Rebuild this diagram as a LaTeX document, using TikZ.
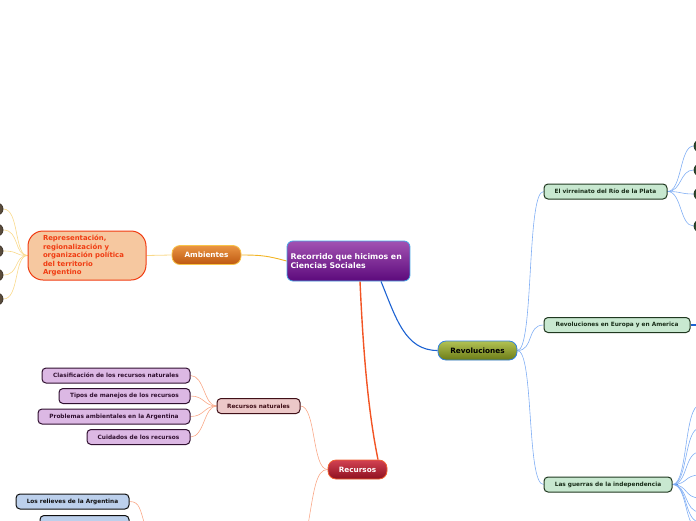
\documentclass[tikz,border=0pt]{standalone}
\usepackage{fontspec}
\setmainfont{DejaVu Sans}
\usetikzlibrary{calc}
\pgfdeclarelayer{bg}
\pgfsetlayers{bg,main}
\definecolor{purTop}{HTML}{A252B2}
\definecolor{purBot}{HTML}{5C0A7C}
\definecolor{cenBorder}{HTML}{45A5E5}
\definecolor{ambTop}{HTML}{EA9544}
\definecolor{ambBot}{HTML}{BE5810}
\definecolor{ambBorder}{HTML}{F8C448}
\definecolor{repFill}{HTML}{F6C8A0}
\definecolor{repRed}{HTML}{F03C12}
\definecolor{revTop}{HTML}{B2C254}
\definecolor{revBot}{HTML}{6C7C16}
\definecolor{revBorder}{HTML}{3080E0}
\definecolor{recTop}{HTML}{D24252}
\definecolor{recBot}{HTML}{8E1020}
\definecolor{recBorder}{HTML}{F06030}
\definecolor{greenFill}{HTML}{C8E8D0}
\definecolor{greenLine}{HTML}{203820}
\definecolor{rnFill}{HTML}{ECC8C8}
\definecolor{rnLine}{HTML}{401018}
\definecolor{lilFill}{HTML}{DCB8E4}
\definecolor{lilLine}{HTML}{301030}
\definecolor{bluFill}{HTML}{BCD0EC}
\definecolor{bluLine}{HTML}{101010}
\definecolor{yelLine}{HTML}{F2B424}
\definecolor{yelLight}{HTML}{F9D98A}
\definecolor{blueMain}{HTML}{1C62D2}
\definecolor{blueLight}{HTML}{80AEF4}
\definecolor{redMain}{HTML}{F25424}
\definecolor{salmon}{HTML}{F9A888}
\definecolor{brownDot}{HTML}{5A4C3C}
\definecolor{greenDot}{HTML}{2E4A2E}
\tikzset{
  central/.style={rectangle, rounded corners=6pt, top color=purTop, bottom color=purBot,
    draw=cenBorder, line width=0.8pt, text=white, minimum width=123pt, minimum height=40pt,
    text width=116pt, align=left, inner xsep=3.5pt, inner ysep=0pt,
    font=\fontsize{7.8}{9.2}\selectfont\bfseries},
  mainbox/.style={rectangle, rounded corners=8pt, line width=0.8pt, minimum height=19pt,
    inner sep=0pt, font=\fontsize{7.3}{8}\selectfont\bfseries},
  leaf/.style={rectangle, rounded corners=4pt, line width=1pt, minimum height=15pt,
    inner sep=0pt, font=\fontsize{5.8}{6}\selectfont\bfseries},
  greenleaf/.style={leaf, fill=greenFill, draw=greenLine, text=greenLine!80!black},
  lilleaf/.style={leaf, fill=lilFill, draw=lilLine, text=lilLine},
  bluleaf/.style={leaf, fill=bluFill, draw=bluLine, text=bluLine},
  dotnode/.style={circle, minimum size=12pt, inner sep=0pt, line width=0.8pt},
  conn/.style={line width=0.6pt}
}
\begin{document}
\begin{tikzpicture}[x=1pt,y=-1pt]
\useasboundingbox (0,0) rectangle (696,520);
\clip (0,0) rectangle (696,520);

% central
\node[central] (cen) at (348.5,261) {Recorrido que hicimos en\\Ciencias Sociales};

% Ambientes branch
\node[mainbox, top color=ambTop, bottom color=ambBot, draw=ambBorder, text=white,
  minimum width=69pt] (amb) at (206.5,255) {Ambientes};
\node[rectangle, rounded corners=15pt, fill=repFill, draw=repRed, line width=1pt,
  text=repRed, minimum width=118pt, minimum height=49pt, text width=88pt, align=left,
  inner xsep=15pt, inner ysep=0pt, font=\fontsize{6.9}{8.5}\selectfont\bfseries]
  (rep) at (87,255.5) {Representación,\\regionalización y\\organización política\\del territorio\\Argentino};
\foreach \i/\y in {1/209,2/230,3/251,4/275,5/299}{
  \node[dotnode, fill=brownDot, draw=brownDot!70!black] (ld\i) at (-3,\y) {};
}

% Revoluciones branch
\node[mainbox, top color=revTop, bottom color=revBot, draw=revBorder, text=black,
  minimum width=79pt] (rev) at (477.5,350.5) {Revoluciones};
\node[greenleaf, minimum width=123pt] (vir) at (605.5,191.5) {El virreinato del Río de la Plata};
\node[greenleaf, minimum width=146pt] (eur) at (617,325) {Revoluciones en Europa y en America};
\node[greenleaf, minimum width=128pt] (gue) at (608,484.5) {Las guerras de la independencia};
\foreach \i/\y in {1/146,2/170,3/194,4/226}{
  \node[dotnode, fill=greenDot, draw=greenDot!70!black] (rd\i) at (700,\y) {};
}
\coordinate (eurOut) at (700,325);
\foreach \i/\y in {1/405,2/428,3/452,4/475,5/498,6/512,7/522,8/530}{
  \coordinate (g\i) at (700,\y);
}

% Recursos branch
\node[mainbox, top color=recTop, bottom color=recBot, draw=recBorder, text=white,
  minimum width=59pt] (rec) at (357.5,469.5) {Recursos};
\node[leaf, fill=rnFill, draw=rnLine, text=rnLine, minimum width=83pt] (rn) at (258.5,406) {Recursos naturales};
\node[lilleaf, minimum width=148pt] (l1) at (116,375.5) {Clasificación de los recursos naturales};
\node[lilleaf, minimum width=131pt] (l2) at (124.5,396) {Tipos de manejos de los recursos};
\node[lilleaf, minimum width=152pt] (l3) at (114,416.5) {Problemas ambientales en la Argentina};
\node[lilleaf, minimum width=103pt] (l4) at (138.5,437) {Cuidados de los recursos};
\node[bluleaf, minimum width=113pt] (b1) at (72.5,501.5) {Los relieves de la Argentina};
\node[bluleaf, minimum width=89pt] (b2) at (84.5,523) {};
\coordinate (recDown) at (308,525);
\coordinate (bDown) at (145,525);

\begin{pgfonlayer}{bg}
  % central connectors
  \draw[yelLine, line width=0.9pt] (amb.east) .. controls (262,255) and (268,256) .. (cen.west);
  \draw[blueMain, line width=1.1pt] (cen.south -| 381,0) .. controls (396,318) and (405,350.5) .. (rev.west);
  \draw[redMain, line width=1.4pt] (cen.south -| 360,0) .. controls (364,370) and (370,420) .. (rec.north -| 378,0);
  % Ambientes
  \draw[yelLight, line width=0.8pt] (rep.east) -- (amb.west);
  \foreach \i in {1,...,5}{
    \draw[yelLight, conn] (rep.west) .. controls (14,255.5) and ($(ld\i.east)+(16,0)$) .. (ld\i.east);
  }
  % Revoluciones
  \foreach \t in {vir,eur,gue}{
    \draw[blueLight, conn] (rev.east) .. controls (534,350.5) and ($(\t.west)+(-17,0)$) .. (\t.west);
  }
  \foreach \i in {1,...,4}{
    \draw[blueLight, conn] (vir.east) .. controls (682,191.5) and ($(rd\i.west)+(-14,0)$) .. (rd\i.west);
  }
  \draw[blueMain, line width=1.4pt] (eur.east) -- (eurOut);
  \draw[blueMain, line width=1.4pt] (gue.east) -- ++(5,0);
  \foreach \i in {1,...,8}{
    \draw[blueLight, conn] (gue.east) .. controls (688,484.5) and ($(g\i)+(-16,0)$) .. (g\i);
  }
  % Recursos
  \draw[salmon, conn] (rec.west) .. controls (312,469.5) and (316,406) .. (rn.east);
  \draw[salmon, conn] (rec.west) .. controls (316,469.5) and (314,490) .. (recDown);
  \foreach \i in {1,...,4}{
    \draw[salmon, conn] (rn.west) .. controls (204,406) and ($(l\i.east)+(14,0)$) .. (l\i.east);
  }
  \draw[salmon, conn] (b1.east) .. controls (140,501.5) and (140,510) .. (bDown);
\end{pgfonlayer}
\end{tikzpicture}
\end{document}
